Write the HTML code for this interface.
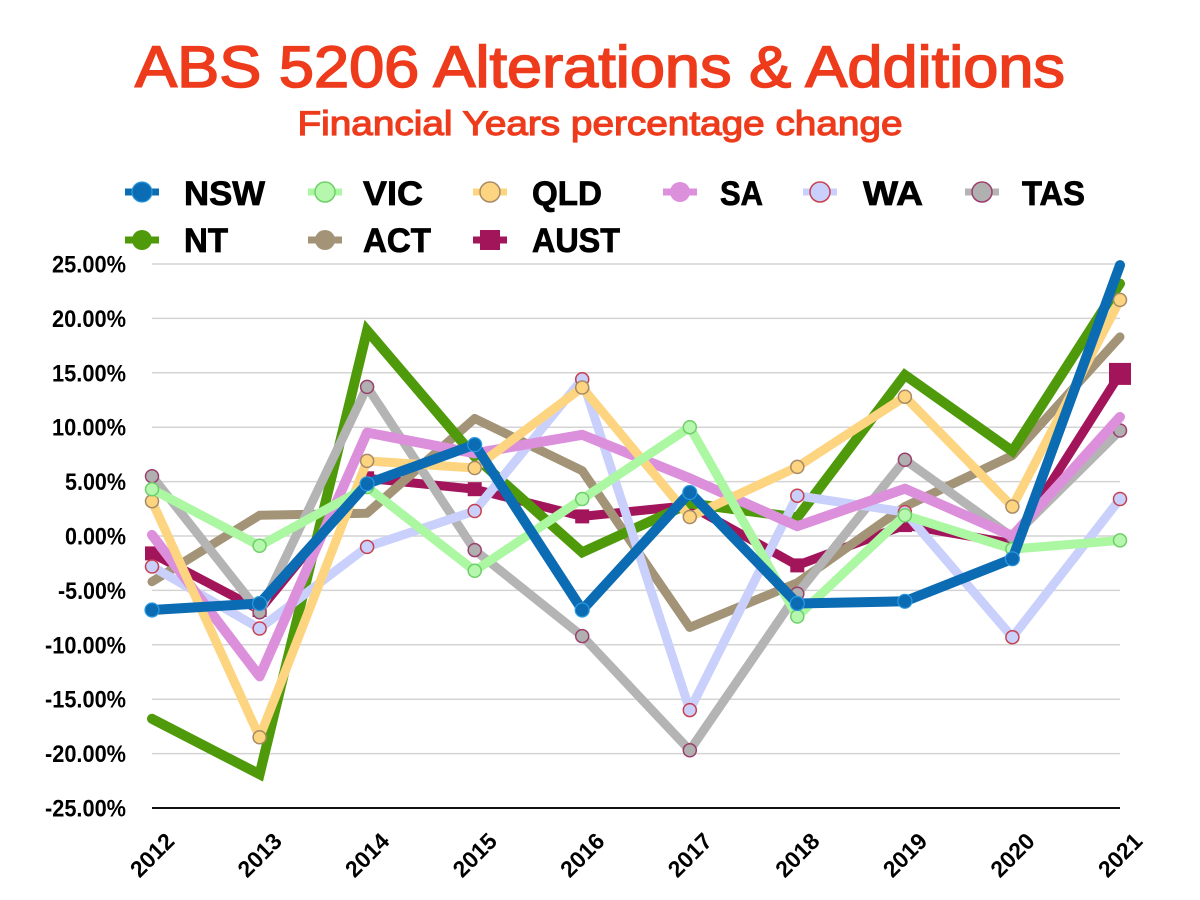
<!DOCTYPE html>
<html>
<head>
<meta charset="utf-8">
<style>
  html, body { margin:0; padding:0; background:#ffffff; }
  svg { display:block; }
  text { font-family: "Liberation Sans", "DejaVu Sans", sans-serif; }
</style>
</head>
<body>
<svg width="1200" height="900" viewBox="0 0 1200 900" xmlns="http://www.w3.org/2000/svg">
  <rect width="1200" height="900" fill="#ffffff"/>

  <!-- Title -->
  <text x="600" y="87" text-anchor="middle" font-size="58" fill="#ee3b1c" stroke="#ee3b1c" stroke-width="1.6" textLength="930" lengthAdjust="spacingAndGlyphs">ABS 5206 Alterations &amp; Additions</text>
  <text x="600" y="135" text-anchor="middle" font-size="34" fill="#ee3b1c" stroke="#ee3b1c" stroke-width="1.2" textLength="605" lengthAdjust="spacingAndGlyphs">Financial Years percentage change</text>

  <!-- Legend -->
  <g font-size="34" font-weight="bold" fill="#000" stroke="#000" stroke-width="0.8">
    <text x="184" y="205" textLength="81" lengthAdjust="spacingAndGlyphs">NSW</text>
    <text x="363" y="205" textLength="60" lengthAdjust="spacingAndGlyphs">VIC</text>
    <text x="532" y="205" textLength="70" lengthAdjust="spacingAndGlyphs">QLD</text>
    <text x="720" y="205" textLength="43" lengthAdjust="spacingAndGlyphs">SA</text>
    <text x="863" y="205" textLength="60" lengthAdjust="spacingAndGlyphs">WA</text>
    <text x="1022" y="205" textLength="63" lengthAdjust="spacingAndGlyphs">TAS</text>
    <text x="184" y="252" textLength="44" lengthAdjust="spacingAndGlyphs">NT</text>
    <text x="363" y="252" textLength="68" lengthAdjust="spacingAndGlyphs">ACT</text>
    <text x="532" y="252" textLength="88" lengthAdjust="spacingAndGlyphs">AUST</text>
  </g>
  <!-- legend markers -->
  <g stroke-linecap="butt">
    <line x1="125" y1="192" x2="159" y2="192" stroke="#0b6cb4" stroke-width="7"/>
    <circle cx="142" cy="192" r="10" fill="#0b6cb4" stroke="#2a9be0" stroke-width="1.2"/>
    <line x1="308" y1="192" x2="342" y2="192" stroke="#abf7a2" stroke-width="7"/>
    <circle cx="325" cy="192" r="10" fill="#b5f7ac" stroke="#6fcf6a" stroke-width="1.5"/>
    <line x1="473" y1="192" x2="507" y2="192" stroke="#fdd480" stroke-width="7"/>
    <circle cx="490" cy="192" r="10" fill="#fdd480" stroke="#a88a66" stroke-width="1.5"/>
    <line x1="663" y1="192" x2="697" y2="192" stroke="#dc90dc" stroke-width="7"/>
    <circle cx="680" cy="192" r="10" fill="#dc90dc"/>
    <line x1="803" y1="192" x2="837" y2="192" stroke="#c9d0fb" stroke-width="7"/>
    <circle cx="820" cy="192" r="10" fill="#c9d0fb" stroke="#c8404f" stroke-width="1.5"/>
    <line x1="965" y1="192" x2="999" y2="192" stroke="#b4b4b4" stroke-width="7"/>
    <circle cx="982" cy="192" r="10" fill="#b0b0b0" stroke="#9b3f6e" stroke-width="1.5"/>
    <line x1="125" y1="240" x2="159" y2="240" stroke="#4f9a0a" stroke-width="7"/>
    <circle cx="142" cy="240" r="10" fill="#4f9a0a"/>
    <line x1="308" y1="240" x2="342" y2="240" stroke="#a39478" stroke-width="7"/>
    <circle cx="325" cy="240" r="10" fill="#a39478"/>
    <line x1="473" y1="240" x2="507" y2="240" stroke="#a3155b" stroke-width="7"/>
    <rect x="480" y="230" width="20" height="20" fill="#a3155b"/>
  </g>

  <!-- Gridlines -->
  <g stroke="#d4d4d4" stroke-width="1.5">
    <line x1="152" y1="264" x2="1120" y2="264"/>
    <line x1="152" y1="318.4" x2="1120" y2="318.4"/>
    <line x1="152" y1="372.8" x2="1120" y2="372.8"/>
    <line x1="152" y1="427.2" x2="1120" y2="427.2"/>
    <line x1="152" y1="481.6" x2="1120" y2="481.6"/>
    <line x1="152" y1="536" x2="1120" y2="536"/>
    <line x1="152" y1="590.4" x2="1120" y2="590.4"/>
    <line x1="152" y1="644.8" x2="1120" y2="644.8"/>
    <line x1="152" y1="699.2" x2="1120" y2="699.2"/>
    <line x1="152" y1="753.6" x2="1120" y2="753.6"/>
  </g>
  <line x1="152" y1="808" x2="1120" y2="808" stroke="#111" stroke-width="2"/>

  <!-- Y axis labels -->
  <g font-size="24" font-weight="bold" fill="#000" text-anchor="end">
    <text x="126" y="272.5" textLength="74" lengthAdjust="spacingAndGlyphs">25.00%</text>
    <text x="126" y="326.9" textLength="74" lengthAdjust="spacingAndGlyphs">20.00%</text>
    <text x="126" y="381.3" textLength="74" lengthAdjust="spacingAndGlyphs">15.00%</text>
    <text x="126" y="435.7" textLength="74" lengthAdjust="spacingAndGlyphs">10.00%</text>
    <text x="126" y="490.1" textLength="61" lengthAdjust="spacingAndGlyphs">5.00%</text>
    <text x="126" y="544.5" textLength="61" lengthAdjust="spacingAndGlyphs">0.00%</text>
    <text x="126" y="598.9" textLength="68" lengthAdjust="spacingAndGlyphs">-5.00%</text>
    <text x="126" y="653.3" textLength="81" lengthAdjust="spacingAndGlyphs">-10.00%</text>
    <text x="126" y="707.7" textLength="81" lengthAdjust="spacingAndGlyphs">-15.00%</text>
    <text x="126" y="762.1" textLength="81" lengthAdjust="spacingAndGlyphs">-20.00%</text>
    <text x="126" y="816.5" textLength="81" lengthAdjust="spacingAndGlyphs">-25.00%</text>
  </g>

  <!-- X axis labels -->
  <g font-size="23" font-weight="bold" fill="#000" text-anchor="middle">
    <text transform="translate(152,855) rotate(-45)" y="8">2012</text>
    <text transform="translate(259.6,855) rotate(-45)" y="8">2013</text>
    <text transform="translate(367.1,855) rotate(-45)" y="8">2014</text>
    <text transform="translate(474.7,855) rotate(-45)" y="8">2015</text>
    <text transform="translate(582.2,855) rotate(-45)" y="8">2016</text>
    <text transform="translate(689.8,855) rotate(-45)" y="8">2017</text>
    <text transform="translate(797.3,855) rotate(-45)" y="8">2018</text>
    <text transform="translate(904.9,855) rotate(-45)" y="8">2019</text>
    <text transform="translate(1012.4,855) rotate(-45)" y="8">2020</text>
    <text transform="translate(1120,855) rotate(-45)" y="8">2021</text>
  </g>

  <!-- Series -->
  <g fill="none" stroke-linecap="round" stroke-linejoin="round">
    <!-- AUST -->
    <polyline stroke="#a3155b" stroke-width="9" points="152,553.4 259.6,610.0 367.1,478.3 474.7,489.2 582.2,516.4 689.8,505.5 797.3,565.4 904.9,525.1 1012.4,543.6 1120,373.9"/>
    <g fill="#a3155b">
      <rect x="145" y="546.4" width="14" height="14"/>
      <rect x="252.6" y="603" width="14" height="14"/>
      <rect x="360.1" y="471.3" width="14" height="14"/>
      <rect x="467.7" y="482.2" width="14" height="14"/>
      <rect x="575.2" y="509.4" width="14" height="14"/>
      <rect x="682.8" y="498.5" width="14" height="14"/>
      <rect x="790.3" y="558.4" width="14" height="14"/>
      <rect x="897.9" y="518.1" width="14" height="14"/>
      <rect x="1005.4" y="536.6" width="14" height="14"/>
      <rect x="1109" y="362.9" width="22" height="22"/>
    </g>
    <!-- ACT -->
    <polyline stroke="#a39478" stroke-width="9" points="152,581.7 259.6,515.3 367.1,513.2 474.7,418.5 582.2,470.7 689.8,627.4 797.3,582.8 904.9,506.6 1012.4,455.5 1120,336.9"/>
    <!-- NT -->
    <polyline stroke="#4f9a0a" stroke-width="10" stroke-linejoin="miter" points="152,718.8 259.6,774.3 367.1,330.4 474.7,456.6 582.2,552.3 689.8,503.4 797.3,517.5 904.9,375.0 1012.4,451.1 1120,283.6"/>
    <!-- TAS -->
    <polyline stroke="#b4b4b4" stroke-width="9" points="152,476.2 259.6,612.2 367.1,386.9 474.7,550.1 582.2,636.1 689.8,750.3 797.3,593.7 904.9,459.8 1012.4,537.1 1120,430.5"/>
    <g fill="#b0b0b0" stroke="#9b3f6e" stroke-width="1.5">
      <circle cx="152" cy="476.2" r="6.5"/><circle cx="259.6" cy="612.2" r="6.5"/><circle cx="367.1" cy="386.9" r="6.5"/><circle cx="474.7" cy="550.1" r="6.5"/><circle cx="582.2" cy="636.1" r="6.5"/><circle cx="689.8" cy="750.3" r="6.5"/><circle cx="797.3" cy="593.7" r="6.5"/><circle cx="904.9" cy="459.8" r="6.5"/><circle cx="1012.4" cy="537.1" r="6.5"/><circle cx="1120" cy="430.5" r="6.5"/>
    </g>
    <!-- WA -->
    <polyline stroke="#c9d0fb" stroke-width="9" points="152,566.5 259.6,628.5 367.1,546.9 474.7,511.0 582.2,379.3 689.8,710.1 797.3,495.7 904.9,512.1 1012.4,637.2 1120,499.0"/>
    <g fill="#c9d0fb" stroke="#c8404f" stroke-width="1.5">
      <circle cx="152" cy="566.5" r="6.5"/><circle cx="259.6" cy="628.5" r="6.5"/><circle cx="367.1" cy="546.9" r="6.5"/><circle cx="474.7" cy="511.0" r="6.5"/><circle cx="582.2" cy="379.3" r="6.5"/><circle cx="689.8" cy="710.1" r="6.5"/><circle cx="797.3" cy="495.7" r="6.5"/><circle cx="904.9" cy="512.1" r="6.5"/><circle cx="1012.4" cy="637.2" r="6.5"/><circle cx="1120" cy="499.0" r="6.5"/>
    </g>
    <!-- SA -->
    <polyline stroke="#dc90dc" stroke-width="10" points="152,534.9 259.6,676.4 367.1,432.6 474.7,453.3 582.2,434.8 689.8,478.3 797.3,526.2 904.9,488.7 1012.4,536 1120,416.9"/>
    <!-- QLD -->
    <polyline stroke="#fdd480" stroke-width="9" points="152,501.2 259.6,737.3 367.1,460.9 474.7,468.0 582.2,387.5 689.8,517.0 797.3,466.9 904.9,396.7 1012.4,506.6 1120,299.9"/>
    <g fill="#fdd480" stroke="#a88a66" stroke-width="1.5">
      <circle cx="152" cy="501.2" r="6.5"/><circle cx="259.6" cy="737.3" r="6.5"/><circle cx="367.1" cy="460.9" r="6.5"/><circle cx="474.7" cy="468.0" r="6.5"/><circle cx="582.2" cy="387.5" r="6.5"/><circle cx="689.8" cy="517.0" r="6.5"/><circle cx="797.3" cy="466.9" r="6.5"/><circle cx="904.9" cy="396.7" r="6.5"/><circle cx="1012.4" cy="506.6" r="6.5"/><circle cx="1120" cy="299.9" r="6.5"/>
    </g>
    <!-- VIC -->
    <polyline stroke="#abf7a2" stroke-width="9" points="152,489.2 259.6,545.8 367.1,487.0 474.7,570.8 582.2,499.0 689.8,427.2 797.3,616.5 904.9,515.3 1012.4,549.1 1120,540.4"/>
    <g fill="#b5f7ac" stroke="#6fcf6a" stroke-width="1.5">
      <circle cx="152" cy="489.2" r="6.5"/><circle cx="259.6" cy="545.8" r="6.5"/><circle cx="367.1" cy="487.0" r="6.5"/><circle cx="474.7" cy="570.8" r="6.5"/><circle cx="582.2" cy="499.0" r="6.5"/><circle cx="689.8" cy="427.2" r="6.5"/><circle cx="797.3" cy="616.5" r="6.5"/><circle cx="904.9" cy="515.3" r="6.5"/><circle cx="1012.4" cy="549.1" r="6.5"/><circle cx="1120" cy="540.4" r="6.5"/>
    </g>
    <!-- NSW -->
    <polyline stroke="#0b6cb4" stroke-width="10" points="152,610.0 259.6,603.5 367.1,483.8 474.7,444.6 582.2,610.0 689.8,492.5 797.3,603.5 904.9,601.3 1012.4,558.8 1120,265.1"/>
    <g fill="#0b6cb4" stroke="#2a9be0" stroke-width="1.2">
      <circle cx="152" cy="610.0" r="7"/><circle cx="259.6" cy="603.5" r="7"/><circle cx="367.1" cy="483.8" r="7"/><circle cx="474.7" cy="444.6" r="7"/><circle cx="582.2" cy="610.0" r="7"/><circle cx="689.8" cy="492.5" r="7"/><circle cx="797.3" cy="603.5" r="7"/><circle cx="904.9" cy="601.3" r="7"/><circle cx="1012.4" cy="558.8" r="7"/>
    </g>
  </g>
</svg>
</body>
</html>
